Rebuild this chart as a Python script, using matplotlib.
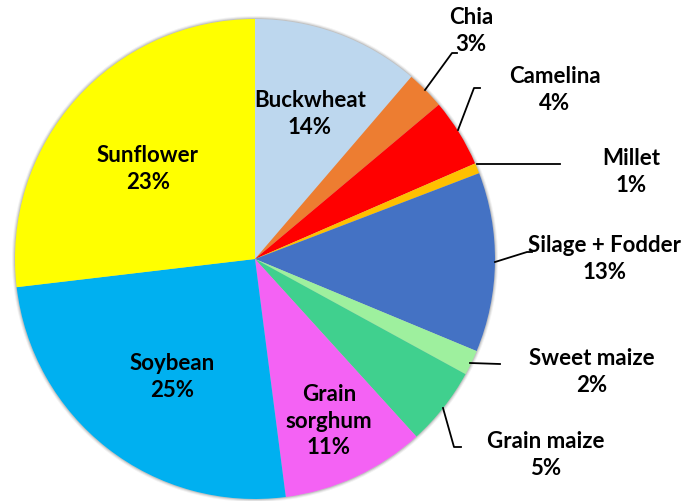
import matplotlib.pyplot as plt
from matplotlib.patches import Circle

plt.rcParams['font.family'] = ['Lato', 'DejaVu Sans']
plt.rcParams['font.weight'] = 'bold'

# crops, clockwise from 12 o'clock
crops = ['Buckwheat', 'Chia', 'Camelina', 'Millet', 'Silage + Fodder',
         'Sweet maize', 'Grain maize', 'Grain\nsorghum', 'Soybean', 'Sunflower']
# slice sizes as drawn (%)
shares = [11.3, 2.6, 4.6, 0.7, 12.1, 1.7, 5.3, 9.7, 25.2, 26.9]
# percentages as printed on the chart
pct_labels = ['14%', '3%', '4%', '1%', '13%', '2%', '5%', '11%', '25%', '23%']
colors = ['#BDD7EE', '#ED7D31', '#FF0000', '#FFC000', '#4472C4',
          '#9EF09E', '#40D08E', '#F462F4', '#00B0F0', '#FFFF00']

W, H = 681, 501
fig = plt.figure(figsize=(W / 100, H / 100), dpi=100)
ax = fig.add_axes([0, 0, 1, 1])

cx, cy, r = 255, H - 259, 240

# soft shadow round the pie
for i, a in enumerate([0.05, 0.08, 0.12]):
    ax.add_patch(Circle((cx, cy), r + 3 - i, color='black', alpha=a, lw=0, zorder=0))

ax.pie(shares, colors=colors, startangle=90, counterclock=False,
       center=(cx, cy), radius=r, wedgeprops=dict(linewidth=0), frame=True)

# label block centres (pixel coords, y from top)
label_pos = [(310, 114), (471, 31), (555, 90), (631, 172), (605, 259),
             (592, 372), (546, 455), (329, 421), (172, 377), (148, 169)]
for name, pct, (px, py) in zip(crops, pct_labels, label_pos):
    ax.text(px, H - py, f'{name}\n{pct}', ha='center', va='center',
            fontsize=16, fontweight='bold', color='black',
            linespacing=1.3, zorder=5)

# leader lines for the outside labels
leaders = [
    [(425, 90), (452, 53), (457, 53)],
    [(458, 130), (474, 88), (480, 88)],
    [(477, 164), (560, 164)],
    [(495, 262), (527, 252), (532, 252)],
    [(470, 363), (500, 364)],
    [(443, 408), (454, 447), (461, 447)],
]
for pts in leaders:
    xs = [p[0] for p in pts]
    ys = [H - p[1] for p in pts]
    ax.plot(xs, ys, color='black', lw=1.3, zorder=4)

ax.set_xlim(0, W)
ax.set_ylim(0, H)
ax.set_aspect('equal')
ax.axis('off')

plt.savefig('out.png', dpi=100)
